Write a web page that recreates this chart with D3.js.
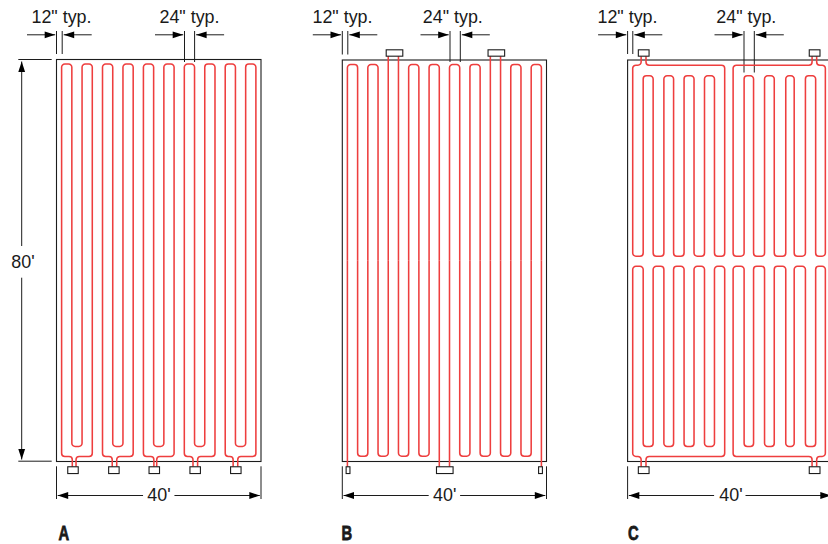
<!DOCTYPE html>
<html><head><meta charset="utf-8">
<script src="https://cdn.jsdelivr.net/npm/d3@7"></script>
<style>html,body{margin:0;padding:0;background:#fff;overflow:hidden}svg{display:block}
text{font-family:"Liberation Sans",Arial,sans-serif;fill:#1a1a1a}</style></head>
<body><svg id="c" width="828" height="544"></svg>
<script>
// ---- data, all in feet on the 40' x 80' slab ----
const panelLabels = ["A","B","C"];
const widthLabel = "40'";
const heightLabel = "80'";
const spacingLabels = ['12" typ.','24" typ.'];
const slabWidth = 40, slabHeight = 80;

// tube runs (feet from slab left edge)
const tubesA = [1,3,5,7,9,11,13,15,17,19,21,23,25,27,29,31,33,35,37,39];
const tubesB = [1,3,5,7,9,11,13,15,17,19,21,23,25,27,29,31,33,35,37,39];
const tubesC = [1,3.05,5,7.1,9,11.05,13,15.05,17,19,20.65,22.8,24.65,26.8,28.7,30.95,32.6,34.8,36.8,38.7];

// elevations along the slab length
const yHead = 0.9, yTurnLow = 77, yOuterLow = 79, yCTurnHigh = 3.15, yCOuterHigh = 1.03;
const yCMidUpper = 39.1, yCMidLower = 41.1;
const boxBelow = [81.05, 82.4], boxAbove = [-2.03, -0.76];

// Layout A: five bottom manifolds, each serving four tubes
const manifoldsA = [
  {box:[2.2,4.25], feed:[3.09,3.82], tubes:[0,1,2,3]},
  {box:[10.2,12.25], feed:[10.9,11.78], tubes:[4,5,6,7]},
  {box:[18.1,20.15], feed:[19.05,19.6], tubes:[8,9,10,11]},
  {box:[26.1,28.15], feed:[26.7,27.6], tubes:[12,13,14,15]},
  {box:[34.05,36.1], feed:[34.55,35.45], tubes:[16,17,18,19]}
];
// Layout B: head loops / foot loops / straight feeds, as tube indices
const headLoopsB = [[0,1],[2,3],[6,7],[8,9],[10,11],[12,13],[16,17],[18,19]];
const footLoopsB = [[1,2],[3,4],[5,6],[7,8],[11,12],[13,14],[15,16],[17,18]];
const topFeedsB = [4,5,14,15];
const bottomFeedsB = [0,9,10,19];
const topBoxesB = [[8.6,11.85],[28.55,31.8]];
const bottomBoxesB = [[0.75,1.5],[18.45,21.7],[38.45,39.2]];
// Layout C: two sets of head-and-foot manifolds
const sideC = [
  {box:[2.1,4.2], feed:[2.65,3.6], tubes:[0,1,2,3,4,5,6,7,8,9]},
  {box:[35.55,37.65], feed:[36.1,37], tubes:[10,11,12,13,14,15,16,17,18,19]}
];

// ---- layout ----
const svg = d3.select("#c");
const RED = "#ee3e3e", INK = "#1c1c1c";
const panels = [
  {x0:56.5, x1:261,   y0:59.5, y1:461.5, labelX:58.5,
   dim12:[56.5,62.2,54],   dim24:[184.5,194.6,62], text12:61.5, text24:189.5, textW:159},
  {x0:342.3,x1:546.5, y0:60,   y1:461.5, labelX:341.5,
   dim12:[342.3,347.8,54.5],dim24:[450,460.3,62],   text12:342.5,text24:452.8, textW:444.7},
  {x0:627.6,x1:832,   y0:60,   y1:461.5, labelX:628,
   dim12:[627.6,632.8,54],  dim24:[744,754.3,72.5], text12:627.5,text24:746.3, textW:731}
].map(p => Object.assign(p,{
   sx:d3.scaleLinear().domain([0,slabWidth]).range([p.x0,p.x1]),
   sy:d3.scaleLinear().domain([0,slabHeight]).range([p.y0,p.y1])
}));

function rounded(pts,r){
  const ctx=d3.path(); ctx.moveTo(pts[0][0],pts[0][1]);
  for(let i=1;i<pts.length-1;i++) ctx.arcTo(pts[i][0],pts[i][1],pts[i+1][0],pts[i+1][1],r);
  ctx.lineTo(pts[pts.length-1][0],pts[pts.length-1][1]);
  return ctx.toString();
}
function tube(g,p,ptsFt,r=3.2){
  g.append("path").attr("d",rounded(ptsFt.map(d=>[p.sx(d[0]),p.sy(d[1])]),r))
   .attr("fill","none").attr("stroke",RED).attr("stroke-width",1.55);
}
function box(g,p,xs,ys){
  g.append("rect").attr("x",p.sx(xs[0])).attr("y",p.sy(ys[0]))
   .attr("width",p.sx(xs[1])-p.sx(xs[0])).attr("height",p.sy(ys[1])-p.sy(ys[0]))
   .attr("fill","#fff").attr("stroke",INK).attr("stroke-width",1.1);
}
function line(g,x1,y1,x2,y2,w=1){
  g.append("line").attr("x1",x1).attr("y1",y1).attr("x2",x2).attr("y2",y2)
   .attr("stroke",INK).attr("stroke-width",w);
}
function head(g,x,y,dx,dy,len=10.5,half=3.4){
  const nx=-dy,ny=dx;
  g.append("path").attr("d",d3.line()([[x,y],[x-dx*len+nx*half,y-dy*len+ny*half],[x-dx*len-nx*half,y-dy*len-ny*half]])+"Z").attr("fill","#000");
}
function arrow(g,x1,y1,x2,y2){
  line(g,x1,y1,x2,y2);
  const L=Math.hypot(x2-x1,y2-y1); head(g,x2,y2,(x2-x1)/L,(y2-y1)/L);
}
function label(g,x,y,s,anchor="start"){
  g.append("text").attr("x",x).attr("y",y).attr("font-size",17.9).attr("text-anchor",anchor).text(s);
}

function frame(g,p,i){
  g.append("rect").attr("x",p.x0).attr("y",p.y0).attr("width",p.x1-p.x0).attr("height",p.y1-p.y0)
   .attr("fill","none").attr("stroke",INK).attr("stroke-width",1.1);
  // spacing callouts
  const yA=34.8, yTop=31;
  const [a,b,e]=p.dim12, [c,d,f]=p.dim24;
  line(g,a,yTop,a,e); line(g,b,yTop,b,e);
  arrow(g,a-29.5,yA,a-1.3,yA); arrow(g,b+29.5,yA,b+1.5,yA);
  line(g,c,yTop,c,f); line(g,d,yTop,d,f);
  arrow(g,c-29.5,yA,c-1.3,yA); arrow(g,d+29.5,yA,d+1.5,yA);
  label(g,p.text12,23.2,spacingLabels[0],"middle");
  label(g,p.text24,23.2,spacingLabels[1],"middle");
  // width dimension
  const yW=495.5;
  line(g,p.x0,466.3,p.x0,499); line(g,p.x1,466.3,p.x1,499);
  const mid=(p.x0+p.x1)/2;
  arrow(g,mid-15.7,yW,p.x0+1.2,yW); arrow(g,mid+15.7,yW,p.x1-1.2,yW);
  label(g,p.textW,500.6,widthLabel,"middle");
  // letter
  g.append("text").attr("transform",`translate(${p.labelX},539.6) scale(0.72,1)`)
   .attr("font-size",20.5).attr("font-weight",700).attr("stroke","#1a1a1a").attr("stroke-width",0.8)
   .text(panelLabels[i]);
}

// Panel A
{ const p=panels[0], g=svg.append("g"); frame(g,p,0);
  // height dimension
  const xH=21.7;
  line(g,18.3,p.y0,51.7,p.y0); line(g,18.3,p.y1-0.3,51.7,p.y1-0.3);
  arrow(g,xH,246,xH,p.y0+2); arrow(g,xH,277.7,xH,p.y1-2);
  label(g,23,268,heightLabel,"middle");
  manifoldsA.forEach(m=>{
    const [t0,t1,t2,t3]=m.tubes.map(k=>tubesA[k]);
    tube(g,p,[[m.feed[0],boxBelow[0]],[m.feed[0],yOuterLow],[t0,yOuterLow],[t0,yHead],[t1,yHead],[t1,yTurnLow],[t2,yTurnLow],[t2,yHead],[t3,yHead],[t3,yOuterLow],[m.feed[1],yOuterLow],[m.feed[1],boxBelow[0]]]);
    box(g,p,m.box,boxBelow);
  });
}
// Panel B
{ const p=panels[1], g=svg.append("g"); frame(g,p,1);
  const yLow=78.95;
  headLoopsB.forEach(([a,b])=>tube(g,p,[[tubesB[a],40],[tubesB[a],yHead],[tubesB[b],yHead],[tubesB[b],40]]));
  footLoopsB.forEach(([a,b])=>tube(g,p,[[tubesB[a],40],[tubesB[a],yLow],[tubesB[b],yLow],[tubesB[b],40]]));
  topFeedsB.forEach(a=>tube(g,p,[[tubesB[a],boxAbove[1]],[tubesB[a],40]]));
  bottomFeedsB.forEach(a=>tube(g,p,[[tubesB[a],40],[tubesB[a],boxBelow[0]]]));
  topBoxesB.forEach(b=>box(g,p,b,boxAbove));
  bottomBoxesB.forEach(b=>box(g,p,b,boxBelow));
}
// Panel C
{ const p=panels[2], g=svg.append("g"); frame(g,p,2);
  sideC.forEach(s=>{
    const T=s.tubes.map(k=>tubesC[k]), n=T.length;
    // upper half
    const up=[[s.feed[0],boxAbove[1]],[s.feed[0],yCOuterHigh],[T[0],yCOuterHigh],[T[0],yCMidUpper]];
    for(let i=1;i<n-1;i+=2){ up.push([T[i],yCMidUpper],[T[i],yCTurnHigh],[T[i+1],yCTurnHigh],[T[i+1],yCMidUpper]); }
    up.push([T[n-1],yCMidUpper],[T[n-1],yCOuterHigh],[s.feed[1],yCOuterHigh],[s.feed[1],boxAbove[1]]);
    tube(g,p,up);
    // lower half
    const lo=[[s.feed[0],boxBelow[0]],[s.feed[0],yOuterLow],[T[0],yOuterLow],[T[0],yCMidLower]];
    for(let i=1;i<n-1;i+=2){ lo.push([T[i],yCMidLower],[T[i],yTurnLow],[T[i+1],yTurnLow],[T[i+1],yCMidLower]); }
    lo.push([T[n-1],yCMidLower],[T[n-1],yOuterLow],[s.feed[1],yOuterLow],[s.feed[1],boxBelow[0]]);
    tube(g,p,lo);
    box(g,p,s.box,boxAbove);
    box(g,p,s.box,boxBelow);
  });
}
</script></body></html>
